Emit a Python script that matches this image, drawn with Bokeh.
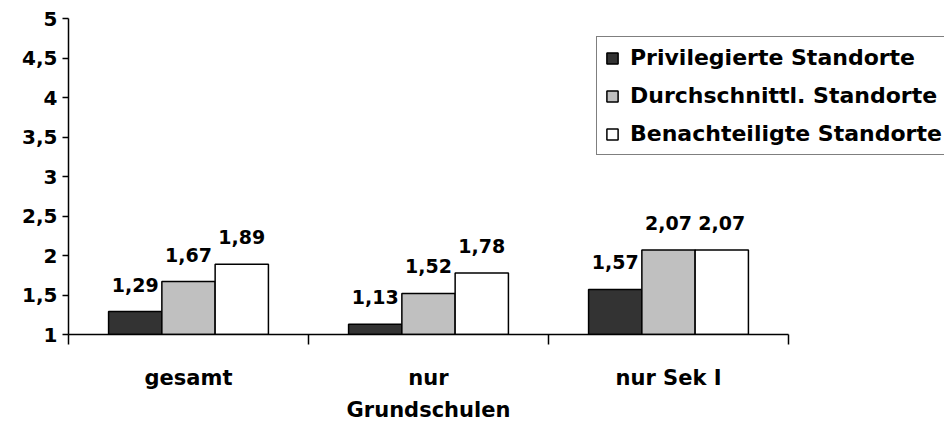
from bokeh.plotting import figure
from bokeh.models import FixedTicker, Range1d, Legend, LegendItem, ColumnDataSource
from bokeh.core.properties import value
from bokeh.embed import file_html
from bokeh.resources import INLINE

categories = ["gesamt", "nur\nGrundschulen", "nur Sek I"]
series_names = ["Privilegierte Standorte", "Durchschnittl. Standorte", "Benachteiligte Standorte"]
privilegiert = [1.29, 1.13, 1.57]
durchschnitt = [1.67, 1.52, 2.07]
benachteiligt = [1.89, 1.78, 2.07]
colors = ["#333333", "#c0c0c0", "#ffffff"]
y_ticks = [1, 1.5, 2, 2.5, 3, 3.5, 4, 4.5, 5]

FONT = "DejaVu Sans"

W, H = 944, 425
LEFT, TOP, BOTTOM = 68, 18, 90
x_end = (W - LEFT) / 240.0

p = figure(width=W, height=H, output_backend="svg", toolbar_location=None,
           x_range=Range1d(0, x_end), y_range=Range1d(1, 5))
p.min_border_left = LEFT
p.min_border_right = 0
p.min_border_top = TOP
p.min_border_bottom = BOTTOM
p.outline_line_color = None
p.xgrid.visible = False
p.ygrid.visible = False
p.background_fill_color = "white"
p.border_fill_color = "white"

offsets = [-0.222, 0.0, 0.222]
width = 0.222
series = [privilegiert, durchschnitt, benachteiligt]
renderers = []
for vals, off, col in zip(series, offsets, colors):
    xs = [i + 0.5 + off for i in range(len(categories))]
    src = ColumnDataSource(dict(x=xs, top=vals, lab=[f"{v:.2f}".replace(".", ",") for v in vals]))
    r = p.vbar(x="x", top="top", bottom=1, width=width, source=src,
               fill_color=col, line_color="black", line_width=1.5)
    renderers.append(r)
    p.text(x="x", y="top", text="lab", source=src, text_align="center",
           text_baseline="alphabetic", y_offset=-27, text_font=value(FONT),
           text_font_style="bold", text_font_size="19px", text_color="black")

# axes
p.xaxis.bounds = (0, 3)
p.xaxis.ticker = FixedTicker(ticks=[0.5, 1.5, 2.5], minor_ticks=[0, 1, 2, 3])
p.xaxis.major_label_overrides = {0.5: categories[0], 1.5: categories[1], 2.5: categories[2]}
p.xaxis.major_tick_in = 0
p.xaxis.major_tick_out = 0
p.xaxis.minor_tick_in = 0
p.xaxis.minor_tick_out = 10
p.xaxis.minor_tick_line_color = "black"
p.xaxis.minor_tick_line_width = 1.5
p.xaxis.major_label_standoff = 21
p.xaxis.major_label_text_font = FONT
p.xaxis.major_label_text_font_style = "bold"
p.xaxis.major_label_text_font_size = "21px"
p.xaxis.major_label_text_color = "black"
p.xaxis.major_label_text_line_height = 1.36
p.xaxis.axis_line_color = "black"
p.xaxis.axis_line_width = 1.5

p.yaxis.ticker = FixedTicker(ticks=y_ticks, minor_ticks=[])
p.yaxis.major_label_overrides = {t: (str(t).replace(".", ",") if t != int(t) else str(int(t))) for t in y_ticks}
p.yaxis.major_tick_in = 0
p.yaxis.major_tick_out = 6
p.yaxis.major_tick_line_color = "black"
p.yaxis.major_tick_line_width = 1.5
p.yaxis.major_label_standoff = 5
p.yaxis.major_label_text_font = FONT
p.yaxis.major_label_text_font_style = "bold"
p.yaxis.major_label_text_font_size = "20px"
p.yaxis.major_label_text_color = "black"
p.yaxis.axis_line_color = "black"
p.yaxis.axis_line_width = 1.5

legend = Legend(items=[LegendItem(label=n, renderers=[r]) for n, r in zip(series_names, renderers)],
                location=(528, 179))
legend.label_text_font = FONT
legend.label_text_font_style = "bold"
legend.label_text_font_size = "22px"
legend.label_text_color = "black"
legend.label_height = 25
legend.glyph_width = 14
legend.glyph_height = 14
legend.spacing = 13
legend.padding = 8
legend.margin = 0
legend.label_standoff = 11
legend.border_line_color = "black"
legend.border_line_width = 1.5
legend.background_fill_color = "white"
legend.background_fill_alpha = 1
p.add_layout(legend, "center")

open("out.html", "w").write(file_html(p, INLINE))
